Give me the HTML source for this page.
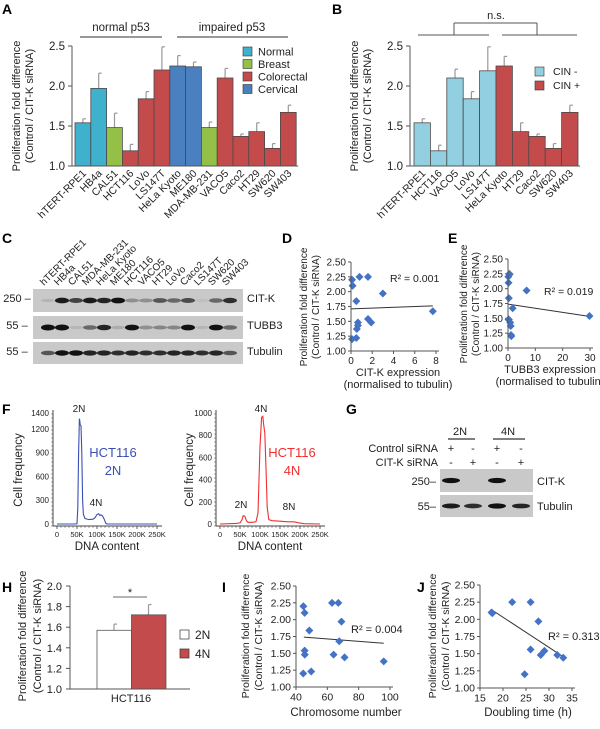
<!DOCTYPE html>
<html><head><meta charset="utf-8">
<style>
html,body{margin:0;padding:0;background:#fff;}
svg{display:block;font-family:"Liberation Sans",Arial,sans-serif;}
</style></head>
<body>
<svg id="fig" width="600" height="729" viewBox="0 0 600 729" xmlns="http://www.w3.org/2000/svg"></svg>
<script>
// ---------- data ----------
const A_cells=["hTERT-RPE1","HB4a","CAL51","HCT116","LoVo","LS147T","HeLa Kyoto","ME180","MDA-MB-231","VACO5","Caco2","HT29","SW620","SW403"];
const A_vals=[1.54,1.97,1.48,1.19,1.84,2.20,2.25,2.24,1.48,2.10,1.37,1.43,1.22,1.67];
const A_errs=[1.59,2.16,1.66,1.27,1.93,2.49,2.38,2.30,1.55,2.22,1.40,1.54,1.28,1.76];
const A_types=["Normal","Normal","Breast","Colorectal","Colorectal","Colorectal","Cervical","Cervical","Breast","Colorectal","Colorectal","Colorectal","Colorectal","Colorectal"];
const A_legend=["Normal","Breast","Colorectal","Cervical"];
const A_ticks=[1.0,1.5,2.0,2.5];
const B_cells=["hTERT-RPE1","HCT116","VACO5","LoVo","LS147T","HeLa Kyoto","HT29","Caco2","SW620","SW403"];
const B_vals=[1.54,1.19,2.10,1.84,2.19,2.25,1.43,1.37,1.22,1.67];
const B_errs=[1.59,1.26,2.21,1.93,2.49,2.37,1.54,1.40,1.28,1.76];
const B_cin=[0,0,0,0,0,1,1,1,1,1];
const C_lanes=["hTERT-RPE1","HB4a","CAL51","MDA-MB-231","HeLa Kyoto","ME180","HCT116","VACO5","HT29","LoVo","Caco2","LS147T","SW620","SW403"];
const C_citk=[0.1,0.9,0.7,0.9,0.85,0.95,0.3,0.3,0.6,0.5,0.65,0.05,0.5,0.8];
const C_tubb3=[1,1,0.1,0.5,0.85,0.15,0.95,0.3,0.35,0.35,0.95,0.1,0.95,0.5];
const C_tub=[0.6,0.95,1,0.85,0.85,0.8,0.85,0.8,0.8,0.85,0.85,0.8,0.85,0.6];
const D_x=[0.1,0.15,0.8,1.6,3.0,0.5,7.7,1.6,1.9,0.65,0.65,0.55,0.5,0.1];
const D_y=[2.20,2.10,2.25,2.25,1.97,1.84,1.67,1.54,1.48,1.48,1.43,1.37,1.22,1.20];
const D_fit=[1.71,1.76];
const E_x=[0.1,0.5,0.2,6.8,0.3,1.7,29.8,0.3,0.8,1.0,1.1,1.2,0.2,0.6];
const E_y=[2.20,2.25,2.10,1.97,1.84,1.67,1.54,1.48,1.43,1.37,1.22,1.20,1.48,2.24];
const E_fit=[1.74,1.53];
const S_ticks=[1.00,1.25,1.50,1.75,2.00,2.25,2.50];
const F2_x=[0,45,50,52,54,56,57,58,60,62,64,66,70,80,90,95,100,104,107,110,114,118,122,125,130,250];
const F2_y=[0,0,2,200,900,1330,1300,1250,1240,900,300,120,70,55,60,80,120,130,110,115,100,60,10,0,0,0];
const F4_x=[0,40,50,55,58,62,66,70,80,90,95,100,104,107,109,112,115,118,122,130,150,170,185,195,210,250];
const F4_y=[0,5,10,40,75,70,30,15,15,20,100,700,960,970,900,820,500,150,40,30,25,20,20,12,3,0];
const F_xticks=["0","50K","100K","150K","200K","250K"];
const F2_yticks=[0,300,600,900,1200,1400];
const F4_yticks=[0,200,400,600,800,1000];
const G_citk=[1,0,1,0];
const G_tub=[0.9,0.8,1,0.85];
const H_groups=["2N","4N"];
const H_vals=[1.57,1.72];
const H_errs=[1.63,1.82];
const H_ticks=[1.0,1.2,1.4,1.6,1.8,2.0];
const I_x=[44.7,45.5,63,67,69,48.5,67.6,45.5,45.6,64,71,96,44.6,49.7];
const I_y=[2.20,2.10,2.25,2.25,1.97,1.84,1.68,1.54,1.48,1.48,1.44,1.38,1.20,1.23];
const I_fit=[1.74,1.65];
const I_xticks=[40,60,80,100];
const J_x=[17.5,17.7,22,26,27.7,26,29,28.2,31.8,33.1,24.7];
const J_y=[2.10,2.09,2.25,2.25,1.97,1.56,1.54,1.48,1.48,1.44,1.20];
const J_fit=[2.14,1.46];
const J_xticks=[15,20,25,30,35];

// ---------- helpers ----------
const svg=document.getElementById('fig');
const NS="http://www.w3.org/2000/svg";
function mk(tag,attrs,parent){const e=document.createElementNS(NS,tag);for(const k in attrs)e.setAttribute(k,attrs[k]);(parent||svg).appendChild(e);return e;}
function lin(d0,d1,r0,r1){return v=>r0+(v-d0)/(d1-d0)*(r1-r0);}
function txt(x,y,s,size,anchor,extra){const e=mk('text',Object.assign({x:x,y:y,'font-size':size,'text-anchor':anchor||'start',fill:'#222'},extra||{}));e.textContent=s;return e;}
function line(x1,y1,x2,y2,col,w){return mk('line',{x1:x1,y1:y1,x2:x2,y2:y2,stroke:col||'#444','stroke-width':w||1});}
const COL={Normal:'#3fb1cc',Breast:'#94c047',Colorectal:'#c44b4b',Cervical:'#4a7fc0'};

// panel labels
[["A",2,14],["B",332,14],["C",2,243],["D",282,243],["E",448,243],["F",2,414],["G",346,414],["H",2,592],["I",222,592],["J",417,592]].forEach(p=>{
  const e=txt(p[1],p[2],p[0],14,'start',{'font-weight':'bold',fill:'#000'});
  
  
});

function yTitle(cx,cy,lines,size,gap){
  lines.forEach((s,i)=>{
    const e=txt(cx+i*gap,cy,s,size,'middle',{transform:'rotate(-90 '+(cx+i*gap)+' '+cy+')'});
    
    
  });
}

// ---------- bar chart (A,B) ----------
function barChart(opt){
  const y=lin(1,2.5,166,46);
  const ax=opt.ax;
  const g=mk('g',{});
  
  
  A_ticks.forEach(t=>{
    mk('line',{x1:ax-4,y1:y(t),x2:ax,y2:y(t),stroke:'#555'},g);
    const e=txt(ax-7,y(t)+4,t.toFixed(1),11.5,'end');
    
    
  });
  const n=opt.vals.length;
  opt.vals.forEach((v,i)=>{
    const x0=opt.x0+i*opt.w;
    const eb=mk('line',{x1:x0+opt.w/2,y1:y(v),x2:x0+opt.w/2,y2:y(opt.errs[i]),stroke:'#999','stroke-width':1.2},g);
    
    
    mk('line',{x1:x0+opt.w/2,y1:y(opt.errs[i]),x2:x0+opt.w/2+3,y2:y(opt.errs[i]),stroke:'#999','stroke-width':1.2},g);
    const r=mk('rect',{x:x0,y:y(v),width:opt.w,height:y(1)-y(v),fill:opt.color(i),stroke:'#4a4a4a','stroke-width':0.8},g);
    
    
    const cx=x0+opt.w/2+4, cy=174;
    const t=txt(cx,cy,opt.cells[i],10.5,'end',{transform:'rotate(-45 '+cx+' '+cy+')'});
    
    
  });
  line(ax,46,ax,166,'#555');
  line(ax,166,opt.x0+n*opt.w+2,166,'#555');
}
barChart({name:'chart-a',ax:72,x0:75,w:15.8,vals:A_vals,errs:A_errs,cells:A_cells,color:i=>COL[A_types[i]]});
yTitle(20,106,["Proliferation fold difference","(Control / CIT-K siRNA)"],11,13);
line(80,37,162,37,'#777',1.5); line(177,37,288,37,'#777',1.5);
let e1=txt(121,31,"normal p53",11.5,'middle');  
let e2=txt(232,31,"impaired p53",11.5,'middle');  
A_legend.forEach((k,i)=>{
  const r=mk('rect',{x:243,y:47+i*12.5,width:9,height:9,fill:COL[k],stroke:'#333','stroke-width':0.6});
  
  
  const t=txt(258,55.5+i*12.5,k,11);
  
  
});

barChart({name:'chart-b',ax:410,x0:414,w:16.4,vals:B_vals,errs:B_errs,cells:B_cells,color:i=>B_cin[i]?'#c44b4b':'#92cfe1'});
yTitle(358,106,["Proliferation fold difference","(Control / CIT-K siRNA)"],11,13);
line(418,35,489,35,'#555'); line(502,35,577,35,'#555');
line(454,35,454,23,'#555'); line(537,35,537,23,'#555'); line(454,23,537,23,'#555');
let ns=txt(496,19,"n.s.",11,'middle');  
[["CIN -",'#92cfe1'],["CIN +",'#c44b4b']].forEach((k,i)=>{
  const r=mk('rect',{x:535,y:67+i*14,width:9,height:9,fill:k[1],stroke:'#333','stroke-width':0.6});
  
  
  const t=txt(553,75+i*14,k[0],10.5);
  
  
});

// ---------- western blots ----------
function blotStrip(x,y,w,h,centers,vals,bw,bh,name){
  const g=mk('g',{});
  
  
  mk('rect',{x:x,y:y,width:w,height:h,fill:'#c9c9c9'},g);
  centers.forEach((c,i)=>{
    if(vals[i]<=0)return;
    const b=mk('ellipse',{cx:c,cy:y+h/2,rx:bw/2,ry:bh*(0.5+0.5*vals[i]),fill:'#111','fill-opacity':Math.min(1,vals[i]*1.05)},g);
    
    
  });
}
const C_cent=C_lanes.map((_,i)=>48+i*14);
blotStrip(33,289,210,23,C_cent,C_citk,14,3,'blot-c-citk');
blotStrip(33,316,210,23,C_cent,C_tubb3,14,3,'blot-c-tubb3');
blotStrip(33,342,210,22,C_cent,C_tub,14,2.8,'blot-c-tubulin');
[["250",302,"CIT-K"],["55",329,"TUBB3"],["55",355,"Tubulin"]].forEach(r=>{
  const m=txt(17,r[1],r[0]+" \u2013",11,'middle');  
  const l=txt(247,r[1],r[2],11);  
});
C_lanes.forEach((s,i)=>{
  const cx=C_cent[i]-4, cy=286;
  const t=txt(cx,cy,s,10,'start',{transform:'rotate(-45 '+cx+' '+cy+')'});
  
  
});

// ---------- scatter helper ----------
function scatter(o){
  const x=lin(o.xd[0],o.xd[1],o.xr[0],o.xr[1]), y=lin(1,2.5,o.yr[0],o.yr[1]);
  const g=mk('g',{});
  
  
  line(o.xr[0],o.yr[1],o.xr[0],o.yr[0],'#555');
  line(o.xr[0],o.yr[0],o.xr[1]+3,o.yr[0],'#555');
  S_ticks.forEach(t=>{
    mk('line',{x1:o.xr[0]-3,y1:y(t),x2:o.xr[0],y2:y(t),stroke:'#555'},g);
    const e=txt(o.xr[0]-5,y(t)+3.5,t.toFixed(2),o.fs,'end');
    
    
  });
  o.xticks.forEach(t=>{
    mk('line',{x1:x(t),y1:o.yr[0],x2:x(t),y2:o.yr[0]+3,stroke:'#555'},g);
    const e=txt(x(t),o.yr[0]+o.fs+3,String(t),o.fs,'middle');
    
    
  });
  const fl=mk('line',{x1:x(o.fx[0]),y1:y(o.fit[0]),x2:x(o.fx[1]),y2:y(o.fit[1]),stroke:'#333','stroke-width':1},g);
  
  
  o.px.forEach((v,i)=>{
    const cx=x(v), cy=y(o.py[i]);
    const p=mk('path',{d:'M'+cx+' '+(cy-4)+'L'+(cx+4)+' '+cy+'L'+cx+' '+(cy+4)+'L'+(cx-4)+' '+cy+'Z',fill:'#4472c4'},g);
    
    
  });
  const r=txt(o.r2[0],o.r2[1],"R\u00b2 = "+o.r2[2],o.fs+0.5);
  
  
  o.xt.forEach((s,i)=>{
    const e=txt(o.xtc,o.xty+i*12,s,o.fs+1,'middle');
    
    
  });
}
scatter({name:'scatter-d',xd:[0,8],xr:[351,436],yr:[351,262],px:D_x,py:D_y,fx:[0,7.7],fit:D_fit,xticks:[0,2,4,6,8],fs:10,r2:[390,282,"0.001"],xt:["CIT-K expression","(normalised to tubulin)"],xtc:398,xty:376});
yTitle(307,307,["Proliferation fold difference","(Control / CIT-K siRNA)"],10,12);
scatter({name:'scatter-e',xd:[0,30],xr:[508,590],yr:[348,259],px:E_x,py:E_y,fx:[0,30],fit:E_fit,xticks:[0,10,20,30],fs:10,r2:[544,295,"0.019"],xt:["TUBB3 expression","(normalised to tubulin)"],xtc:550,xty:373});
yTitle(467,304,["Proliferation fold difference","(Control / CIT-K siRNA)"],10,12);
scatter({name:'scatter-i',xd:[40,100],xr:[296,390],yr:[687,586],px:I_x,py:I_y,fx:[45,96],fit:I_fit,xticks:I_xticks,fs:10.5,r2:[351,633,"0.004"],xt:["Chromosome number"],xtc:346,xty:716});
yTitle(249,636,["Proliferation fold difference","(Control / CIT-K siRNA)"],10.5,13);
scatter({name:'scatter-j',xd:[15,35],xr:[480,572],yr:[688,585],px:J_x,py:J_y,fx:[17.5,33],fit:J_fit,xticks:J_xticks,fs:10.5,r2:[548,640,"0.313"],xt:["Doubling time (h)"],xtc:528,xty:716});
yTitle(436,636,["Proliferation fold difference","(Control / CIT-K siRNA)"],10.5,13);

// ---------- histograms (F) ----------
function hist(o){
  const x=lin(0,250,o.x0,o.x0+100), y=lin(0,o.ymax,524,413);
  const g=mk('g',{});
  
  
  line(o.x0-4,410,o.x0-4,526,'#444'); line(o.x0-4,526,o.x0+105,526,'#444');
  for(let i=0;i<=25;i++){mk('line',{x1:o.x0+i*4,y1:526,x2:o.x0+i*4,y2:528,stroke:'#666','stroke-width':0.6},g);}
  for(let i=0;i<=28;i++){mk('line',{x1:o.x0-6,y1:526-i*4,x2:o.x0-4,y2:526-i*4,stroke:'#666','stroke-width':0.6},g);}
  F_xticks.forEach((s,i)=>{
    mk('line',{x1:x(i*50),y1:526,x2:x(i*50),y2:529,stroke:'#444','stroke-width':0.8},g);
    const e=txt(x(i*50),537,s,7.5,'middle');  });
  o.yt.forEach(t=>{const e=txt(o.x0-8,y(t)+3,String(t),8,'end');  });
  const d=o.xs.map((v,i)=>(i?'L':'M')+x(v).toFixed(1)+' '+y(o.ys[i]).toFixed(1)).join('');
  const p=mk('path',{d:d,fill:'none',stroke:o.col,'stroke-width':1.1},g);
  
  
  const t=txt(o.x0+50,550,"DNA content",11.5,'middle');  
  const yt=txt(o.yx,470,"Cell frequency",11.5,'middle',{transform:'rotate(-90 '+o.yx+' '+470+')'});  
}
hist({name:'histogram-2n',x0:57,ymax:1400,xs:F2_x,ys:F2_y,col:'#3a4fb5',yt:F2_yticks,yx:22});
hist({name:'histogram-4n',x0:220,ymax:1000,xs:F4_x,ys:F4_y,col:'#f03030',yt:F4_yticks,yx:193});
[[79,412,"2N"],[96,506,"4N"],[261,412,"4N"],[241,508,"2N"],[289,510,"8N"]].forEach(a=>{const e=txt(a[0],a[1],a[2],10,'middle');  });
[[113,457,"HCT116",'#3a4fb5'],[113,475,"2N",'#3a4fb5'],[292,457,"HCT116",'#f03030'],[292,475,"4N",'#f03030']].forEach(a=>{const e=txt(a[0],a[1],a[2],13,'middle',{fill:a[3]});  });

// ---------- G blot ----------
const G_cent=[451,473,497,521];
blotStrip(440,469,93,23,G_cent,G_citk,18,2.6,'blot-g-citk');
blotStrip(440,495,93,22,G_cent,G_tub,18,2.6,'blot-g-tubulin');
line(448,439,475,439,'#555',1.5); line(493,439,525,439,'#555',1.5);
[[460,"2N"],[508,"4N"]].forEach(a=>{const e=txt(a[0],435,a[1],11,'middle');  });
[["Control siRNA",452,["+","-","+","-"]],["CIT-K siRNA",466,["-","+","-","+"]]].forEach(r=>{
  const e=txt(438,r[1],r[0],11,'end');  
  r[2].forEach((s,i)=>{const q=txt(G_cent[i],r[1],s,11,'middle');  });
});
[["250\u2013",485,"CIT-K"],["55\u2013",510,"Tubulin"]].forEach(r=>{
  const m=txt(436,r[1],r[0],11,'end');  
  const l=txt(537,r[1],r[2],11);  
});

// ---------- H bar ----------
(function(){
  const y=lin(1,2,689,586);
  const g=mk('g',{});
  
  
  H_ticks.forEach(t=>{
    mk('line',{x1:66,y1:y(t),x2:70,y2:y(t),stroke:'#555'},g);
    const e=txt(62,y(t)+4,t.toFixed(1),11,'end');
    
    
  });
  const cols=['#ffffff','#c44b4b'];
  H_vals.forEach((v,i)=>{
    const x0=97+i*34.5;
    mk('line',{x1:x0+17,y1:y(v),x2:x0+17,y2:y(H_errs[i]),stroke:'#999','stroke-width':1.2},g);
    mk('line',{x1:x0+17,y1:y(H_errs[i]),x2:x0+20,y2:y(H_errs[i]),stroke:'#999','stroke-width':1.2},g);
    const r=mk('rect',{x:x0,y:y(v),width:34.5,height:y(1)-y(v),fill:cols[i],stroke:'#555','stroke-width':0.8},g);
    
    
    const s=mk('rect',{x:180,y:630+i*19,width:9,height:9,fill:cols[i],stroke:'#333','stroke-width':0.7});
    
    
    const t=txt(195,639+i*19,H_groups[i],12);
    
    
  });
  line(70,586,70,689,'#555'); line(70,689,190,689,'#555');
  line(113,597,147,597,'#888',1.3);
  const st=txt(130,596,"*",11,'middle');  
  const xl=txt(131,702,"HCT116",11,'middle');  
})();
yTitle(26,636,["Proliferation fold difference","(Control / CIT-K siRNA)"],11,15);
</script>
</body></html>
